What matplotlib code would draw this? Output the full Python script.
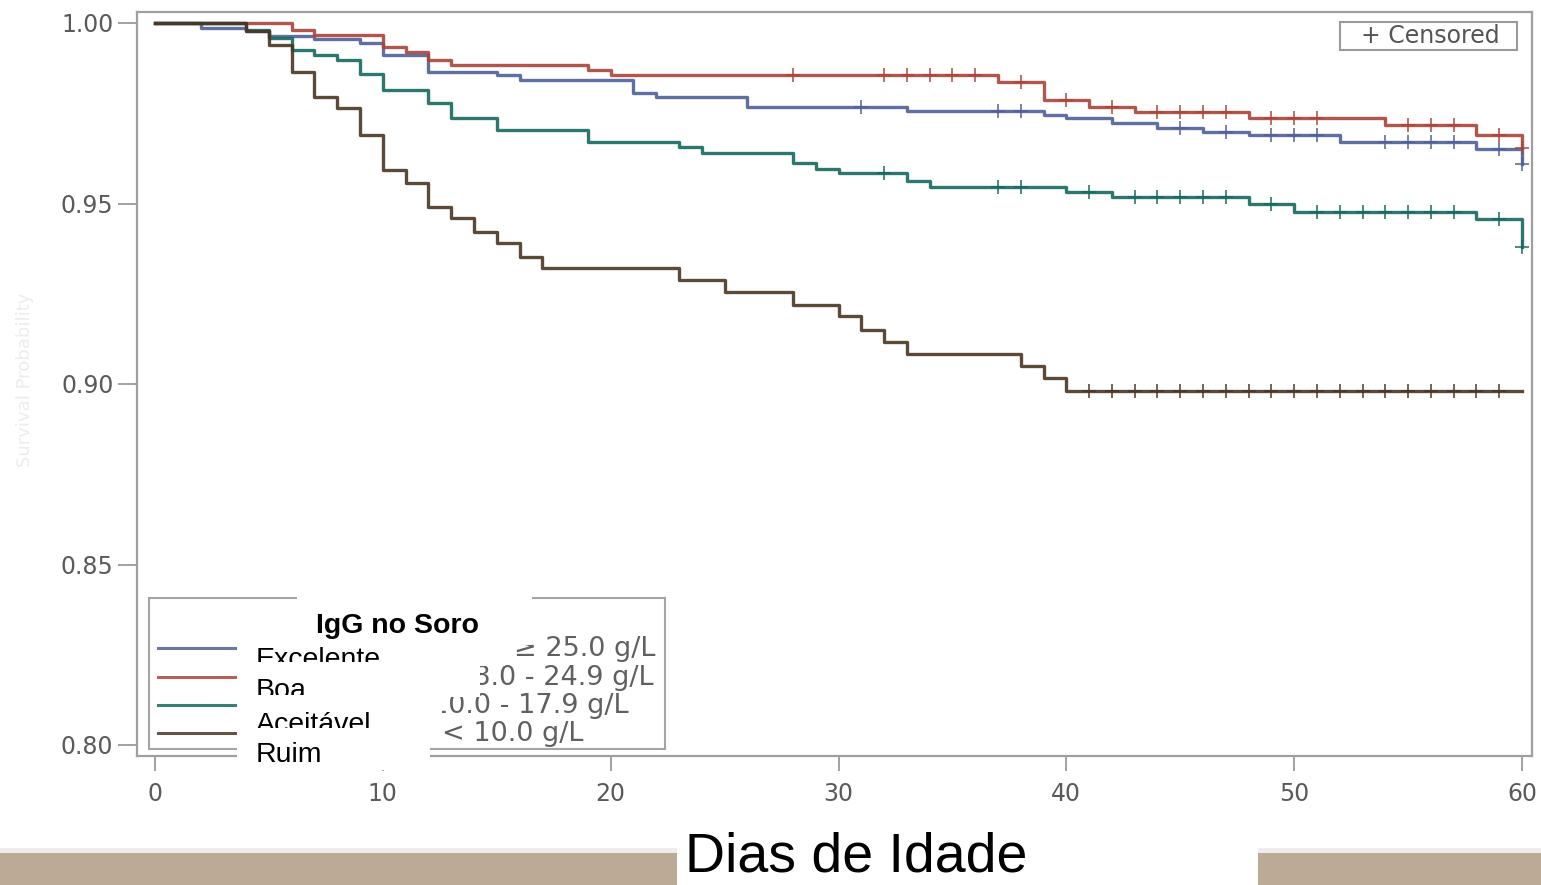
import numpy as np
import matplotlib
matplotlib.use("Agg")
import matplotlib.pyplot as plt
from matplotlib.patches import Rectangle
from matplotlib.lines import Line2D
from matplotlib.transforms import Bbox, TransformedBbox

# ---------------- data ----------------
exc_t = [0, 2, 4, 5, 7, 9, 10, 12, 15, 16, 21, 22, 26, 33, 39, 40, 42, 44, 46, 48, 52, 58, 60]
exc_s = [1.0, 0.9986, 0.9978, 0.9965, 0.9955, 0.9944, 0.9911, 0.9865, 0.9856, 0.9842, 0.9805,
         0.9794, 0.9768, 0.9757, 0.9745, 0.9736, 0.9722, 0.9708, 0.9699, 0.9690, 0.9671, 0.9650, 0.9610]
exc_cens = [31, 37, 38, 45, 47, 49, 50, 51, 54, 55, 56, 57, 59, 60]

boa_t = [0, 6, 7, 10, 11, 12, 13, 19, 20, 37, 39, 41, 43, 48, 54, 58, 60]
boa_s = [1.0, 0.998, 0.9967, 0.9934, 0.992, 0.9898, 0.9884, 0.987, 0.9856, 0.9837, 0.9787,
         0.9768, 0.9754, 0.9736, 0.9717, 0.969, 0.9655]
boa_cens = [28, 32, 33, 34, 35, 36, 38, 40, 42, 44, 45, 46, 47, 49, 50, 51, 55, 56, 57, 59, 60]

ace_t = [0, 4, 5, 6, 7, 8, 9, 10, 12, 13, 15, 19, 23, 24, 28, 29, 30, 33, 34, 40, 42, 48, 50, 58, 60]
ace_s = [1.0, 0.998, 0.9958, 0.9925, 0.991, 0.9898, 0.986, 0.9814, 0.9778, 0.9737, 0.9704, 0.9671,
         0.9657, 0.964, 0.9611, 0.9595, 0.9584, 0.9563, 0.9547, 0.9533, 0.9519, 0.95, 0.9477, 0.9456, 0.938]
ace_cens = [32, 37, 38, 41, 43, 44, 45, 46, 47, 49, 51, 52, 53, 54, 55, 56, 57, 59, 60]

ruim_t = [0, 4, 5, 6, 7, 8, 9, 10, 11, 12, 13, 14, 15, 16, 17, 23, 25, 28, 30, 31, 32, 33, 38, 39, 40, 60]
ruim_s = [1.0, 0.9979, 0.9939, 0.9865, 0.9796, 0.9764, 0.969, 0.9593, 0.9557, 0.9491, 0.9459, 0.9422,
          0.939, 0.9353, 0.932, 0.9288, 0.9256, 0.922, 0.9188, 0.915, 0.9117, 0.9083, 0.905, 0.9017,
          0.898, 0.898]
ruim_cens = [41, 42, 43, 44, 45, 46, 47, 48, 49, 50, 51, 52, 53, 54, 55, 56, 57, 58, 59]

group_names = ["Excelente", "Boa", "Aceitável", "Ruim"]
group_ranges = ["\u2265 25.0 g/L", "18.0 - 24.9 g/L", "10.0 - 17.9 g/L", "< 10.0 g/L"]
legend_title = "IgG no Soro"
x_title = "Dias de Idade"
y_title = "Survival Probability"
censor_label = "+ Censored"
x_ticks = [0, 10, 20, 30, 40, 50, 60]
y_ticks = [0.80, 0.85, 0.90, 0.95, 1.00]

colors = ["#4f5f97", "#a9443a", "#15695f", "#4a3522"]

# ---------------- figure ----------------
W, H = 1541, 885
fig = plt.figure(figsize=(W / 100, H / 100), dpi=100)
fig.patch.set_facecolor("white")


def fx(x):
    return x / W


def fy(y):
    return 1 - y / H


def frect(x0, y0, x1, y1, **kw):
    r = Rectangle((fx(x0), fy(y1)), (x1 - x0) / W, (y1 - y0) / H,
                  transform=fig.transFigure, **kw)
    fig.add_artist(r)
    return r


def ftext(x, y, s, clip=None, **kw):
    t = fig.text(fx(x), fy(y), s, **kw)
    if clip is not None:
        x0, y0, x1, y1 = clip
        bb = TransformedBbox(Bbox([[fx(x0), fy(y1)], [fx(x1), fy(y0)]]), fig.transFigure)
        t.set_clip_box(bb)
        t.set_clip_on(True)
    return t


ax_l, ax_r, ax_t, ax_b = 137, 1532, 12, 756
ax = fig.add_axes([fx(ax_l), fy(ax_b), (ax_r - ax_l) / W, (ax_b - ax_t) / H])

px_per_day = (1522 - 155) / 60.0
px_per_unit = (745 - 23) / 0.20
ax.set_xlim(0 - (155 - ax_l) / px_per_day, 60 + (ax_r - 1522) / px_per_day)
ax.set_ylim(0.80 - (ax_b - 745) / px_per_unit, 1.00 + (23 - ax_t) / px_per_unit)

series = [(exc_t, exc_s, exc_cens), (boa_t, boa_s, boa_cens),
          (ace_t, ace_s, ace_cens), (ruim_t, ruim_s, ruim_cens)]

for (tt, ss, cc), col in zip(series, colors):
    tt = np.asarray(tt, float)
    ss = np.asarray(ss, float)
    ax.step(tt, ss, where="post", color=col, lw=2.4, alpha=0.9, zorder=3)
    cc = np.asarray(cc, float)
    idx = np.searchsorted(tt, cc, side="right") - 1
    ax.plot(cc, ss[idx], ls="none", marker="+", ms=10, mew=1.2, color=col, alpha=0.9, zorder=4)

ax.set_xticks(x_ticks)
ax.set_xticklabels([str(v) for v in x_ticks])
ax.set_yticks(y_ticks)
ax.set_yticklabels([f"{v:.2f}" for v in y_ticks])
ax.tick_params(axis="y", length=14, width=1.3, color="#9a9a9a", pad=3,
               labelsize=17, labelcolor="#5a5a5a")
ax.tick_params(axis="x", length=11, width=1.3, color="#9a9a9a", pad=8,
               labelsize=17, labelcolor="#5a5a5a")
for sp in ax.spines.values():
    sp.set_color("#9f9f9f")
    sp.set_linewidth(1.6)

# faint y-axis title
ftext(25, 380, y_title, rotation=90, ha="center", va="center",
      fontsize=13, color="#ececec")

# censored box
frect(1340, 22, 1517, 50, facecolor="white", edgecolor="#9a9a9a", lw=1.5, zorder=5)
ftext(1430, 36, censor_label, ha="center", va="center", fontsize=17,
      color="#555555", zorder=6)

# ---------------- legend ----------------
frect(149, 598, 665, 749, facecolor="white", edgecolor="#a4a4a4", lw=1.5, zorder=5)
row_y = [648, 677, 705, 733]
for yy, col in zip(row_y, colors):
    fig.add_artist(Line2D([fx(158), fx(240)], [fy(yy), fy(yy)], color=col, lw=2.2,
                          alpha=0.85, transform=fig.transFigure, zorder=6))
range_right = [656, 654, 629, 584]
for yy, rr, txt in zip(row_y, range_right, group_ranges):
    ftext(rr, yy + 1, txt, ha="right", va="center", fontsize=19.5,
          color="#606060", zorder=6)

# overlay boxes (white) with Portuguese labels
frect(297, 597, 532, 645, facecolor="white", edgecolor="none", zorder=10)
ftext(397, 633, legend_title, ha="center", va="baseline", fontsize=20.5,
      fontweight="bold", family="Liberation Sans", color="black", zorder=11)

boxes = [(237, 640, 505, 666), (237, 666, 480, 697), (237, 697, 442, 730), (237, 730, 430, 770)]
clips = [(237, 640, 505, 662), (237, 666, 480, 695), (237, 697, 442, 728), (237, 730, 430, 770)]
baselines = [667, 698, 732, 762]
for i, (bx, cl, bl, name) in enumerate(zip(boxes, clips, baselines, group_names)):
    frect(*bx, facecolor="white", edgecolor="none", zorder=12 + 2 * i)
    ftext(256, bl, name, ha="left", va="baseline", fontsize=20.5,
          family="Liberation Sans", color="black", zorder=13 + 2 * i, clip=cl)

# ---------------- bottom strip & x title ----------------
frect(0, 848, W, 853, facecolor="#ededed", edgecolor="none", zorder=1)
frect(0, 853, W, H + 2, facecolor="#bcaa97", edgecolor="none", zorder=1)
frect(677, 818, 1258, H + 2, facecolor="white", edgecolor="none", zorder=2)
ftext(685, 884, x_title, ha="left", va="bottom", fontsize=40,
      family="Liberation Sans", color="black", zorder=3)

fig.savefig("out.png", dpi=100)
